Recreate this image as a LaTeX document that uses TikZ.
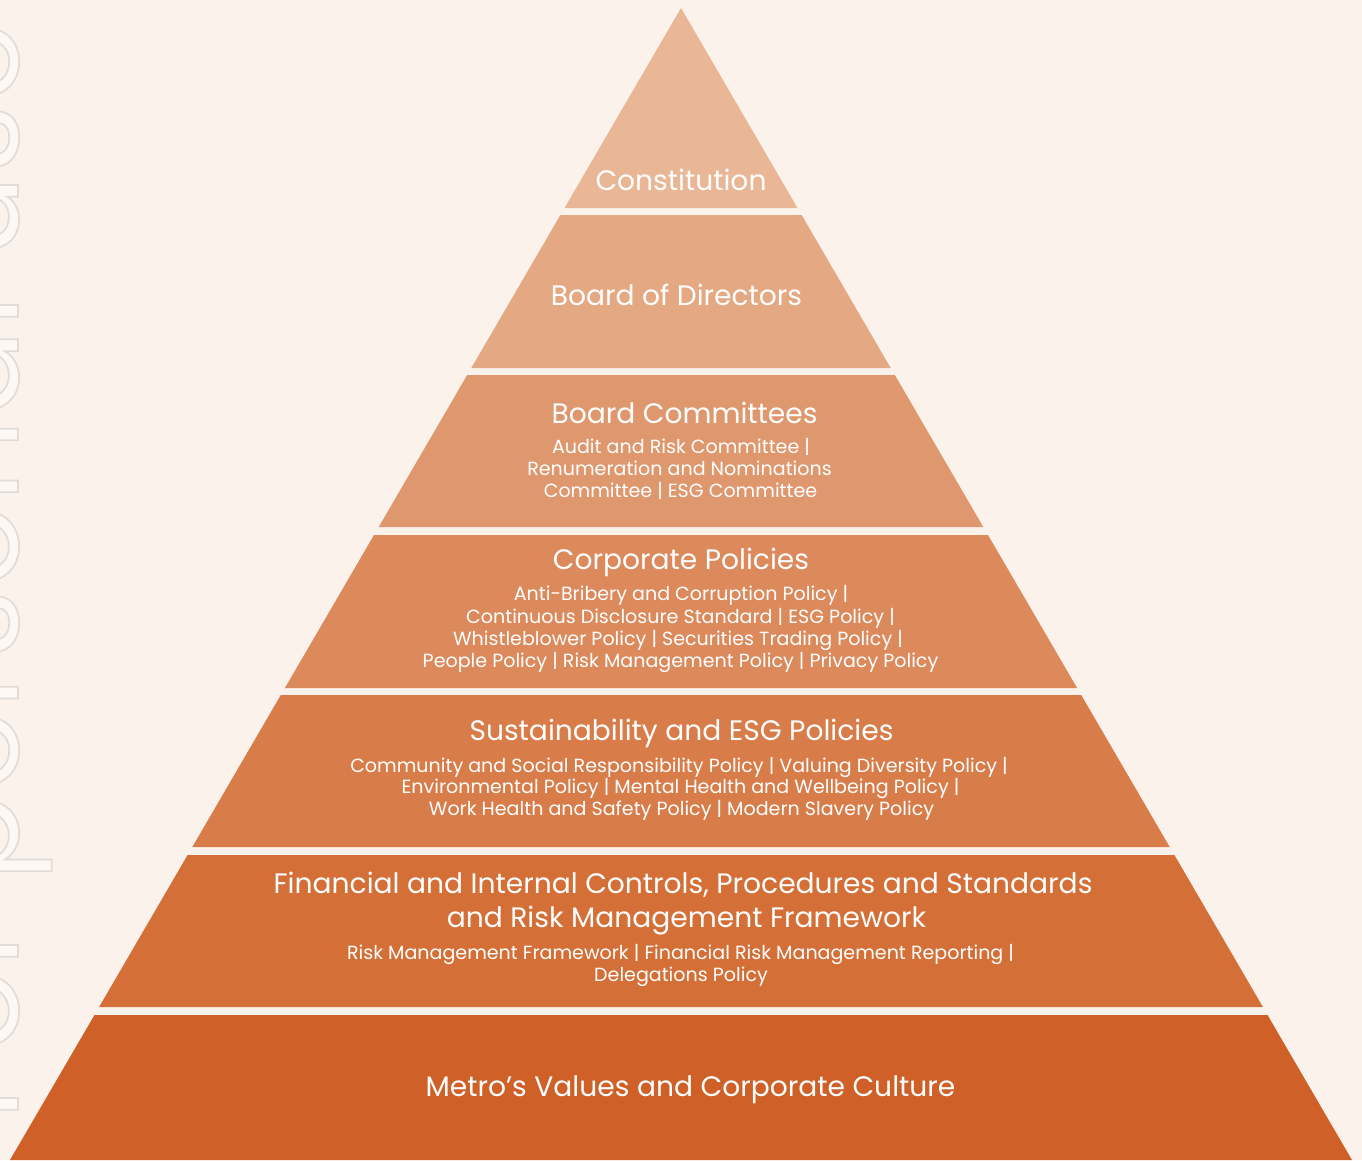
\documentclass[tikz,border=0pt]{standalone}
\usepackage{fontspec}
\setmainfont{Poppins}
\definecolor{bgc}{RGB}{251,242,236}
\definecolor{wmfill}{RGB}{253,248,244}
\definecolor{tA}{RGB}{233,183,149}
\definecolor{tB}{RGB}{228,168,130}
\definecolor{tC}{RGB}{223,152,110}
\definecolor{tD}{RGB}{220,138,92}
\definecolor{tE}{RGB}{216,125,74}
\definecolor{tF}{RGB}{212,112,55}
\definecolor{tG}{RGB}{207,97,40}
\newcommand\outlinetext[1]{\special{pdf:literal direct 2 Tr 1.3 w 0.882 0.863 0.843 RG}#1\special{pdf:literal direct 0 Tr}}
\begin{document}
\begin{tikzpicture}[x=0.75pt,y=-0.75pt,
  ttl/.style={text=white,inner sep=0pt,anchor=base,font=\fontsize{21.1}{25.5}\selectfont},
  sub/.style={text=white,inner sep=0pt,anchor=base,font=\fontsize{14.3}{16.5}\selectfont}]
\useasboundingbox (0,0) rectangle (1362,1160);
\fill[bgc] (0,0) rectangle (1362,1160);
% faint outlined vertical watermark, clipped at the left edge
\begin{scope}
\clip (0,0) rectangle (1362,1160);
\node[rotate=90,anchor=base west,inner sep=0pt,text=wmfill,font=\fontsize{97}{97}\selectfont\addfontfeature{LetterSpace=2}] (wm) at (18,1120)
  {\outlinetext{For personal use only}};
\end{scope}
% tiers
\fill[tA] (681,8) -- (797.5,208) -- (564.5,208) -- cycle;
\fill[tB] (560.4,215) -- (801.6,215) -- (890.7,368) -- (471.3,368) -- cycle;
\fill[tC] (467.2,375) -- (894.8,375) -- (983.3,527) -- (378.7,527) -- cycle;
\fill[tD] (374.0,535) -- (988.0,535) -- (1077.1,688) -- (284.9,688) -- cycle;
\fill[tE] (280.8,695) -- (1081.2,695) -- (1169.7,847) -- (192.3,847) -- cycle;
\fill[tF] (187.6,855) -- (1174.4,855) -- (1262.9,1007) -- (99.1,1007) -- cycle;
\fill[tG] (94.5,1015) -- (1267.5,1015) -- (1352,1160) -- (10,1160) -- cycle;
% texts
\node[ttl] (t1) at (681,190) {Constitution};
\node[ttl] (t2) at (676.5,305) {Board of Directors};
\node[ttl] (t3) at (684.5,423) {Board Committees};
\node[sub] (s3a) at (681,453) {Audit and Risk Committee |};
\node[sub] (s3b) at (679.5,475) {Renumeration and Nominations};
\node[sub] (s3c) at (680.5,497) {Committee | ESG Committee};
\node[ttl] (t4) at (681,569) {Corporate Policies};
\node[sub] (s4a) at (681,600) {Anti-Bribery and Corruption Policy |};
\node[sub] (s4b) at (680.5,623) {Continuous Disclosure Standard | ESG Policy |};
\node[sub] (s4c) at (678,645) {Whistleblower Policy | Securities Trading Policy |};
\node[sub] (s4d) at (680.5,667) {People Policy | Risk Management Policy | Privacy Policy};
\node[ttl] (t5) at (681.5,740) {Sustainability and ESG Policies};
\node[sub] (s5a) at (679,772) {Community and Social Responsibility Policy | Valuing Diversity Policy |};
\node[sub] (s5b) at (680.5,793) {Environmental Policy | Mental Health and Wellbeing Policy |};
\node[sub] (s5c) at (681.5,815) {Work Health and Safety Policy | Modern Slavery Policy};
\node[ttl] (t6a) at (683,893) {Financial and Internal Controls, Procedures and Standards};
\node[ttl] (t6b) at (686.5,927) {and Risk Management Framework};
\node[sub] (s6a) at (680.5,959) {Risk Management Framework | Financial Risk Management Reporting |};
\node[sub] (s6b) at (681,981) {Delegations Policy};
\node[ttl] (t7) at (690.5,1096) {Metro’s Values and Corporate Culture};
\end{tikzpicture}
\end{document}
